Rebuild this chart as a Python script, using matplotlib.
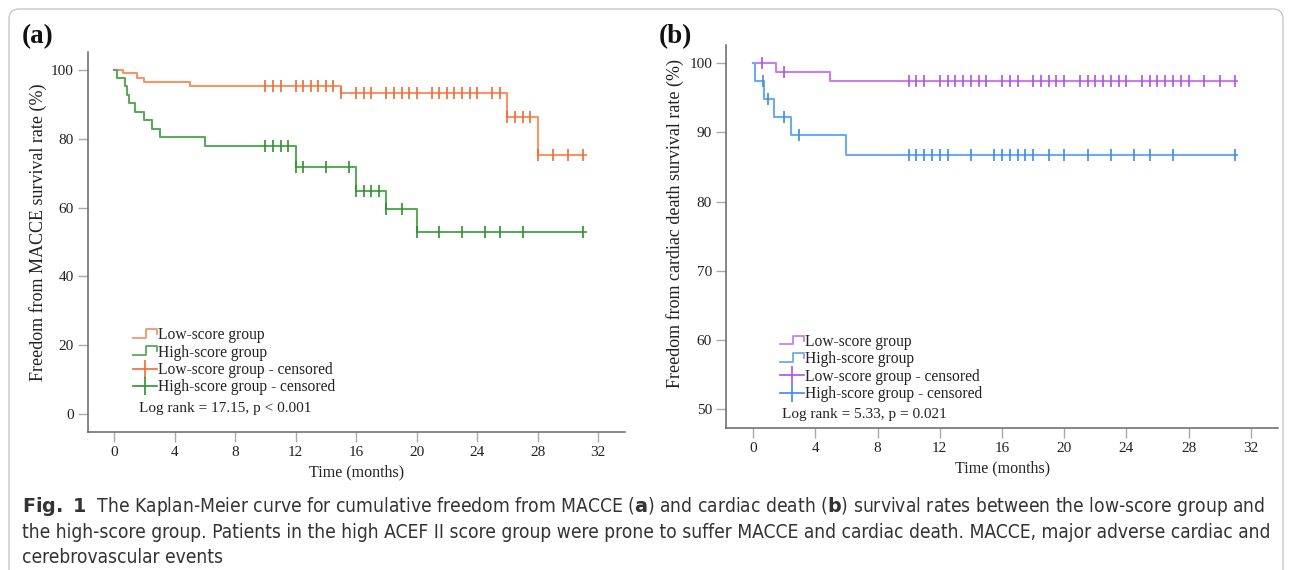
import numpy as np
import matplotlib
matplotlib.use("Agg")
import matplotlib.pyplot as plt
from matplotlib.lines import Line2D
from matplotlib.legend_handler import HandlerBase
from matplotlib.patches import FancyBboxPatch
from matplotlib.transforms import IdentityTransform
from matplotlib import font_manager as fm

plt.rcParams['font.family'] = ['Liberation Serif', 'DejaVu Serif']

# ───────── DATOS (a): MACCE ─────────
a_low_t = [0, 0.6, 1.5, 2.0, 5.0, 15.0, 26.0, 28.0, 31.2]
a_low_s = [100, 99.0, 97.8, 96.6, 95.2, 93.3, 86.2, 75.3, 75.3]
a_low_cens = [10.0, 10.5, 11.0, 12.0, 12.5, 13.0, 13.5, 14.0, 14.5, 15.0, 16.0, 16.5,
              17.0, 18.0, 18.5, 19.0, 19.5, 20.0, 21.0, 21.5, 22.0, 22.5, 23.0, 23.5,
              24.0, 25.0, 25.5, 26.0, 26.5, 27.0, 27.5, 28.0, 29.0, 30.0, 31.0]

a_high_t = [0, 0.2, 0.7, 0.85, 1.0, 1.4, 2.0, 2.5, 3.0, 6.0, 12.0, 16.0, 18.0, 20.0, 31.2]
a_high_s = [100, 97.6, 95.2, 92.7, 90.3, 87.9, 85.4, 82.9, 80.4, 77.9, 71.9, 64.7, 59.6, 53.0, 53.0]
a_high_cens = [10.0, 10.5, 11.0, 11.5, 12.0, 12.5, 14.0, 15.5, 16.0, 16.5, 17.0, 17.5,
               18.0, 19.0, 20.0, 21.5, 23.0, 24.5, 25.5, 27.0, 31.0]

# ───────── DATOS (b): muerte cardiaca ─────────
b_low_t = [0, 1.45, 4.95, 31.1]
b_low_s = [100, 98.7, 97.4, 97.4]
b_low_cens = [0.55, 1.95, 10.0, 10.5, 11.0, 12.0, 12.5, 13.0, 13.5, 14.0, 14.5, 15.0,
              16.0, 16.5, 17.0, 18.0, 18.5, 19.0, 19.5, 20.0, 21.0, 21.5, 22.0, 22.5,
              23.0, 23.5, 24.0, 25.0, 25.5, 26.0, 26.5, 27.0, 27.5, 28.0, 29.0, 30.0, 31.0]

b_high_t = [0, 0.1, 0.72, 1.32, 2.43, 5.95, 31.1]
b_high_s = [100, 97.4, 94.9, 92.3, 89.6, 86.8, 86.8]
b_high_cens = [0.65, 0.95, 1.95, 2.95, 10.0, 10.5, 11.0, 11.5, 12.0, 12.5, 14.0, 15.5,
               16.0, 16.5, 17.0, 17.5, 18.0, 19.0, 20.0, 21.5, 23.0, 24.5, 25.5, 27.0, 31.0]

labels = ['Low-score group', 'High-score group',
          'Low-score group - censored', 'High-score group - censored']
x_ticks = np.arange(0, 33, 4)

# ───────── ESTILOS ─────────
c_a = dict(low=('#f4956a', '#ef6a35'), high=('#5ea85e', '#2f8f2f'))
c_b = dict(low=('#c680ee', '#b04fe6'), high=('#6eaaee', '#3d8ce0'))
TXT = '#222222'

# fuente estrecha para el pie, si existe
names = {f.name for f in fm.fontManager.ttflist}
cap_fam = [n for n in ('Liberation Sans Narrow', 'DejaVu Sans') if n in names] or ['DejaVu Sans']
plt.rcParams['mathtext.fontset'] = 'custom'
plt.rcParams['mathtext.bf'] = cap_fam[0] + ':bold'
plt.rcParams['mathtext.rm'] = cap_fam[0]


class StepHandler(HandlerBase):
    def create_artists(self, legend, orig, xd, yd, w, h, fs, trans):
        xs = np.array([0, 0.55, 0.55, 1.0, 1.0]) * w - xd
        ys = np.array([0.15, 0.15, 0.95, 0.95, 0.5]) * h - yd
        ln = Line2D(xs, ys, color=orig.get_color(), lw=1.3, transform=trans)
        return [ln]


def surv_at(t, st, ss):
    idx = np.searchsorted(st, t, side='right') - 1
    return np.asarray(ss)[idx]


def km_panel(ax, low, high, cols, ylim, yticks, ylabel, ylab_xy, ylab_fs, logrank, leg_xy, txt_xy):
    hs = []
    for (tt, ss, cc), key in zip((low, high), ('low', 'high')):
        lc, mc = cols[key]
        h, = ax.step(tt, ss, where='post', color=lc, lw=1.5)
        hs.append(h)
    ms = []
    for (tt, ss, cc), key in zip((low, high), ('low', 'high')):
        lc, mc = cols[key]
        m, = ax.plot(cc, surv_at(cc, tt, ss), ls='none', marker='|', ms=8,
                     mew=1.2, color=mc)
        ms.append(m)
    ax.set_xlim(-1.75, 33.77)
    ax.set_ylim(*ylim)
    ax.set_xticks(x_ticks)
    ax.set_yticks(yticks)
    for s in ('top', 'right'):
        ax.spines[s].set_visible(False)
    for s in ('left', 'bottom'):
        ax.spines[s].set_color('#666666')
        ax.spines[s].set_linewidth(1.1)
    ax.tick_params(length=7, width=1, color='#aaaaaa', labelsize=11,
                   labelcolor=TXT, pad=3)
    ax.set_xlabel('Time (months)', fontsize=11.5, color=TXT, labelpad=4)
    ax.set_ylabel(ylabel, fontsize=ylab_fs, color=TXT)
    ax.yaxis.set_label_coords(*ylab_xy)
    cen_h = [Line2D([0], [0], color=m.get_color(), lw=1.2, marker='|', ms=13, mew=1.2)
             for m in ms]
    ax.legend(hs + cen_h, labels, handler_map={hs[0]: StepHandler(), hs[1]: StepHandler()},
              loc='upper left', bbox_to_anchor=leg_xy, frameon=False, fontsize=11.2,
              handlelength=1.55, handletextpad=0.05, labelspacing=0.09, borderpad=0,
              borderaxespad=0, numpoints=1, labelcolor=TXT)
    ax.text(*txt_xy, logrank, transform=ax.transAxes, fontsize=11, color=TXT,
            va='center', ha='left')


fig = plt.figure(figsize=(12.92, 5.70), dpi=100)
ax1 = fig.add_axes([0.0679, 0.2416, 0.4158, 0.6677])
ax2 = fig.add_axes([0.5619, 0.2486, 0.4275, 0.6725])

km_panel(ax1, (a_low_t, a_low_s, a_low_cens), (a_high_t, a_high_s, a_high_cens), c_a,
         (-5.33, 105.3), np.arange(0, 101, 20), 'Freedom from MACCE survival rate (%)',
         (-0.076, 0.526), 13.0, 'Log rank = 17.15, p < 0.001', (0.084, 0.276), (0.095, 0.062))
km_panel(ax2, (b_low_t, b_low_s, b_low_cens), (b_high_t, b_high_s, b_high_cens), c_b,
         (47.2, 102.65), np.arange(50, 101, 10), 'Freedom from cardiac death survival rate (%)',
         (-0.076, 0.533), 13.0, 'Log rank = 5.33, p = 0.021', (0.098, 0.246), (0.101, 0.036))

fig.text(22 / 1292, 1 - 37 / 570, '(a)', fontsize=19.5, fontweight='bold', va='center', color='#111111')
fig.text(659 / 1292, 1 - 37 / 570, '(b)', fontsize=19.5, fontweight='bold', va='center', color='#111111')

caption = (r"$\mathbf{Fig.\ 1}$  The Kaplan-Meier curve for cumulative freedom from MACCE ($\mathbf{a}$) "
           r"and cardiac death ($\mathbf{b}$) survival rates between the low-score group and" "\n"
           "the high-score group. Patients in the high ACEF II score group were prone to suffer "
           "MACCE and cardiac death. MACCE, major adverse cardiac and\n"
           "cerebrovascular events")
cap_size = 12.5 if cap_fam[0] == 'Liberation Sans Narrow' else 13.75
fig.text(22 / 1292, 1 - 495 / 570, caption, fontsize=cap_size, va='top', ha='left',
         family=cap_fam, fontstretch='condensed', color='#333333', linespacing=1.36)

frame = FancyBboxPatch((9, -30), 1274, 591, boxstyle='round,pad=0,rounding_size=10',
                       transform=IdentityTransform(), fill=False, ec='#c8c8c8', lw=1)
fig.add_artist(frame)

fig.savefig('out.png', dpi=100)
